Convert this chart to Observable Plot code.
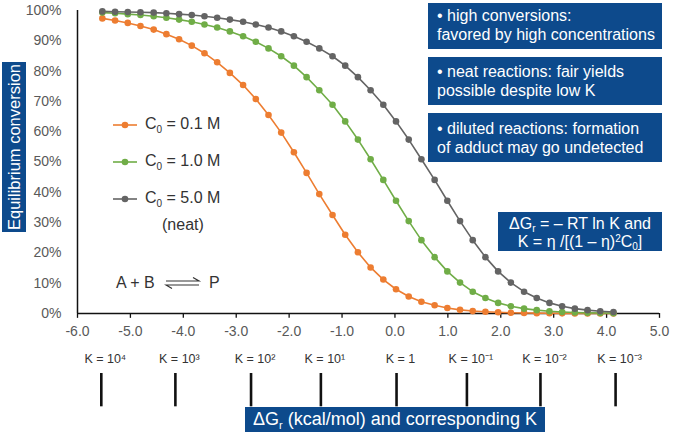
<!DOCTYPE html>
<html>
<head>
<meta charset="utf-8">
<script src="https://cdn.jsdelivr.net/npm/d3@7"></script>
<script src="https://cdn.jsdelivr.net/npm/@observablehq/plot@0.6"></script>
<style>
  html, body { margin: 0; padding: 0; background: #fff; }
  #wrap { position: relative; width: 674px; height: 436px; font-family: "Liberation Sans", Arial, sans-serif; overflow: hidden; }
  #wrap svg.plot { position: absolute; left: 0; top: 0; }
  .box { position: absolute; background: #0d4a8c; color: #fff; box-sizing: border-box; font-size: 16px; line-height: 19px; white-space: nowrap; }
  .sub { font-size: 10px; position: relative; top: 4px; line-height: 0; }
  .sup { font-size: 10px; position: relative; top: -6px; line-height: 0; }
  .leg { position: absolute; font-size: 16px; color: #333; white-space: nowrap; line-height: 20px; }
</style>
</head>
<body>
<div id="wrap"></div>
<script>
// ΔGr values (kcal/mol) of the plotted points
const dG = [-5.53,-5.29,-5.05,-4.81,-4.56,-4.32,-4.08,-3.84,-3.60,-3.36,-3.12,-2.87,-2.63,-2.39,-2.15,-1.91,-1.67,-1.43,-1.18,-0.94,-0.70,-0.46,-0.22,0.02,0.26,0.50,0.75,0.99,1.23,1.47,1.71,1.95,2.19,2.44,2.68,2.92,3.16,3.40,3.64,3.88,4.13];
// Equilibrium conversion (%) for each concentration
const conv01 = [97.4,96.7,95.9,94.9,93.7,92.2,90.5,88.4,85.9,82.9,79.4,75.4,70.8,65.5,59.7,53.2,46.4,39.4,32.5,26.0,20.2,15.2,11.2,8.0,5.6,3.9,2.7,1.8,1.2,0.8,0.6,0.4,0.25,0.17,0.11,0.08,0.05,0.03,0.02,0.02,0.01];
const conv10 = [99.3,99.1,98.8,98.5,98.1,97.6,97.0,96.3,95.4,94.4,93.1,91.5,89.7,87.5,84.9,81.8,78.0,73.7,68.9,63.4,57.4,50.9,44.1,37.2,30.5,24.2,18.6,13.9,10.2,7.2,5.1,3.5,2.4,1.6,1.1,0.74,0.50,0.33,0.22,0.15,0.10];
const conv50 = [99.7,99.6,99.5,99.4,99.3,99.1,98.8,98.5,98.1,97.6,97.0,96.3,95.4,94.4,93.1,91.5,89.7,87.5,84.9,81.8,78.0,73.7,68.9,63.4,57.4,50.9,44.1,37.2,30.5,24.2,18.6,13.9,10.2,7.2,5.1,3.5,2.4,1.6,1.1,0.74,0.50];
const seriesNames = ["C0 = 0.1 M", "C0 = 1.0 M", "C0 = 5.0 M"];
const seriesColors = ["#ed7d31", "#70ad47", "#646464"];
const xTicks = [-6,-5,-4,-3,-2,-1,0,1,2,3,4,5];
const yTicks = [0,10,20,30,40,50,60,70,80,90,100];
const kPos = [-5.55,-4.15,-2.72,-1.40,0.03,1.36,2.75,4.17];
const kLabels = ["K = 10⁴","K = 10³","K = 10²","K = 10¹","K = 1","K = 10⁻¹","K = 10⁻²","K = 10⁻³"];

const seriesValues = [conv01, conv10, conv50];
const table = [];
seriesValues.forEach((vals, s) => vals.forEach((v, i) => table.push({series: seriesNames[s], x: dG[i], y: v})));
const kData = kPos.map((p, i) => ({pos: p, label: kLabels[i]}));

const colorScale = {domain: seriesNames, range: seriesColors};

const chart = Plot.plot({
  width: 674,
  height: 436,
  marginLeft: 77,
  marginRight: 15,
  marginTop: 10,
  marginBottom: 123,
  style: {fontFamily: "Liberation Sans, Arial, sans-serif", background: "transparent", overflow: "visible"},
  x: {domain: [-6, 5]},
  y: {domain: [0, 100]},
  color: colorScale,
  marks: [
    Plot.axisY(yTicks, {tickSize: 0, tickPadding: 16, tickFormat: d => d + "%", fontSize: 14, color: "#595959", label: null}),
    Plot.axisX(xTicks, {tickSize: 0, tickPadding: 13, tickFormat: d => d.toFixed(1), fontSize: 14, color: "#595959", label: null}),
    Plot.ruleX(xTicks, {y1: 0, y2: -1.6, stroke: "#111", strokeWidth: 1.3}),
    Plot.ruleY([0], {stroke: "#111", strokeWidth: 1.5}),
    Plot.ruleX([-6], {y1: 0, y2: 100, stroke: "#111", strokeWidth: 1.5}),
    Plot.line(table, {x: "x", y: "y", z: "series", stroke: "series", strokeWidth: 1.6}),
    Plot.dot(table, {x: "x", y: "y", fill: "series", r: 3.3, stroke: "none"}),
    Plot.text(kData, {x: "pos", text: "label", frameAnchor: "bottom", dy: 49, dx: 4, fontSize: 12.5, fill: "#333"}),
    Plot.ruleX(kData, {x: "pos", y1: -19.8, y2: -30.8, stroke: "#111", strokeWidth: 2.6})
  ]
});
chart.classList.add("plot");
const wrap = document.getElementById("wrap");
wrap.appendChild(chart);

function sub0(txt) { return txt.replace("C0", 'C<span class="sub">0</span>'); }

let html = "";
// annotation boxes
html += '<div class="box" style="left:428px;top:3px;width:234px;height:46px;padding:2.5px 0 0 9px;">• high conversions:<br>favored by high concentrations</div>';
html += '<div class="box" style="left:428px;top:57px;width:234px;height:48px;padding:5px 0 0 9px;">• neat reactions: fair yields<br>possible despite low K</div>';
html += '<div class="box" style="left:428px;top:113px;width:234px;height:49px;padding:5.5px 0 0 9px;">• diluted reactions: formation<br>of adduct may go undetected</div>';
html += '<div class="box" style="left:498px;top:212px;width:164px;height:39px;padding-top:3px;line-height:18px;text-align:center;">ΔG<span class="sub" style="top:3px">r</span> = – RT ln K and<br>K = η /[(1 – η)<span class="sup" style="top:-5px">2</span>C<span class="sub" style="top:3px">0</span>]</div>';
// axis titles
html += '<div class="box" style="left:2px;top:62px;width:24px;height:170px;font-size:16.5px;line-height:24px;"><div style="position:absolute;left:50%;top:50%;transform:translate(-50%,-50%) rotate(-90deg);">Equilibrium conversion</div></div>';
html += '<div class="box" style="left:245px;top:407px;width:300px;height:25px;font-size:18px;line-height:25px;text-align:center;">ΔG<span class="sub" style="top:4px;font-size:11px">r</span> (kcal/mol) and corresponding K</div>';
// legend
const legY = [125, 162, 199];
seriesNames.forEach((n, i) => {
  html += `<svg style="position:absolute;left:111px;top:${legY[i]-5}px" width="28" height="10"><line x1="2" y1="5" x2="26" y2="5" stroke="${seriesColors[i]}" stroke-width="1.6"/><circle cx="14" cy="5" r="3.3" fill="${seriesColors[i]}"/></svg>`;
  html += `<div class="leg" style="left:145px;top:${legY[i]-11}px">${sub0(n)}</div>`;
});
html += '<div class="leg" style="left:162px;top:215px;">(neat)</div>';
// reaction
html += '<div class="leg" style="left:116px;top:273px;">A + B</div>';
html += '<svg style="position:absolute;left:164px;top:276px" width="38" height="14"><path d="M2,5 H35 L29,1.5" fill="none" stroke="#333" stroke-width="1.2"/><path d="M35,9 H2 L8,12.5" fill="none" stroke="#333" stroke-width="1.2"/></svg>';
html += '<div class="leg" style="left:209px;top:273px;">P</div>';
wrap.insertAdjacentHTML("beforeend", html);
</script>
</body>
</html>
